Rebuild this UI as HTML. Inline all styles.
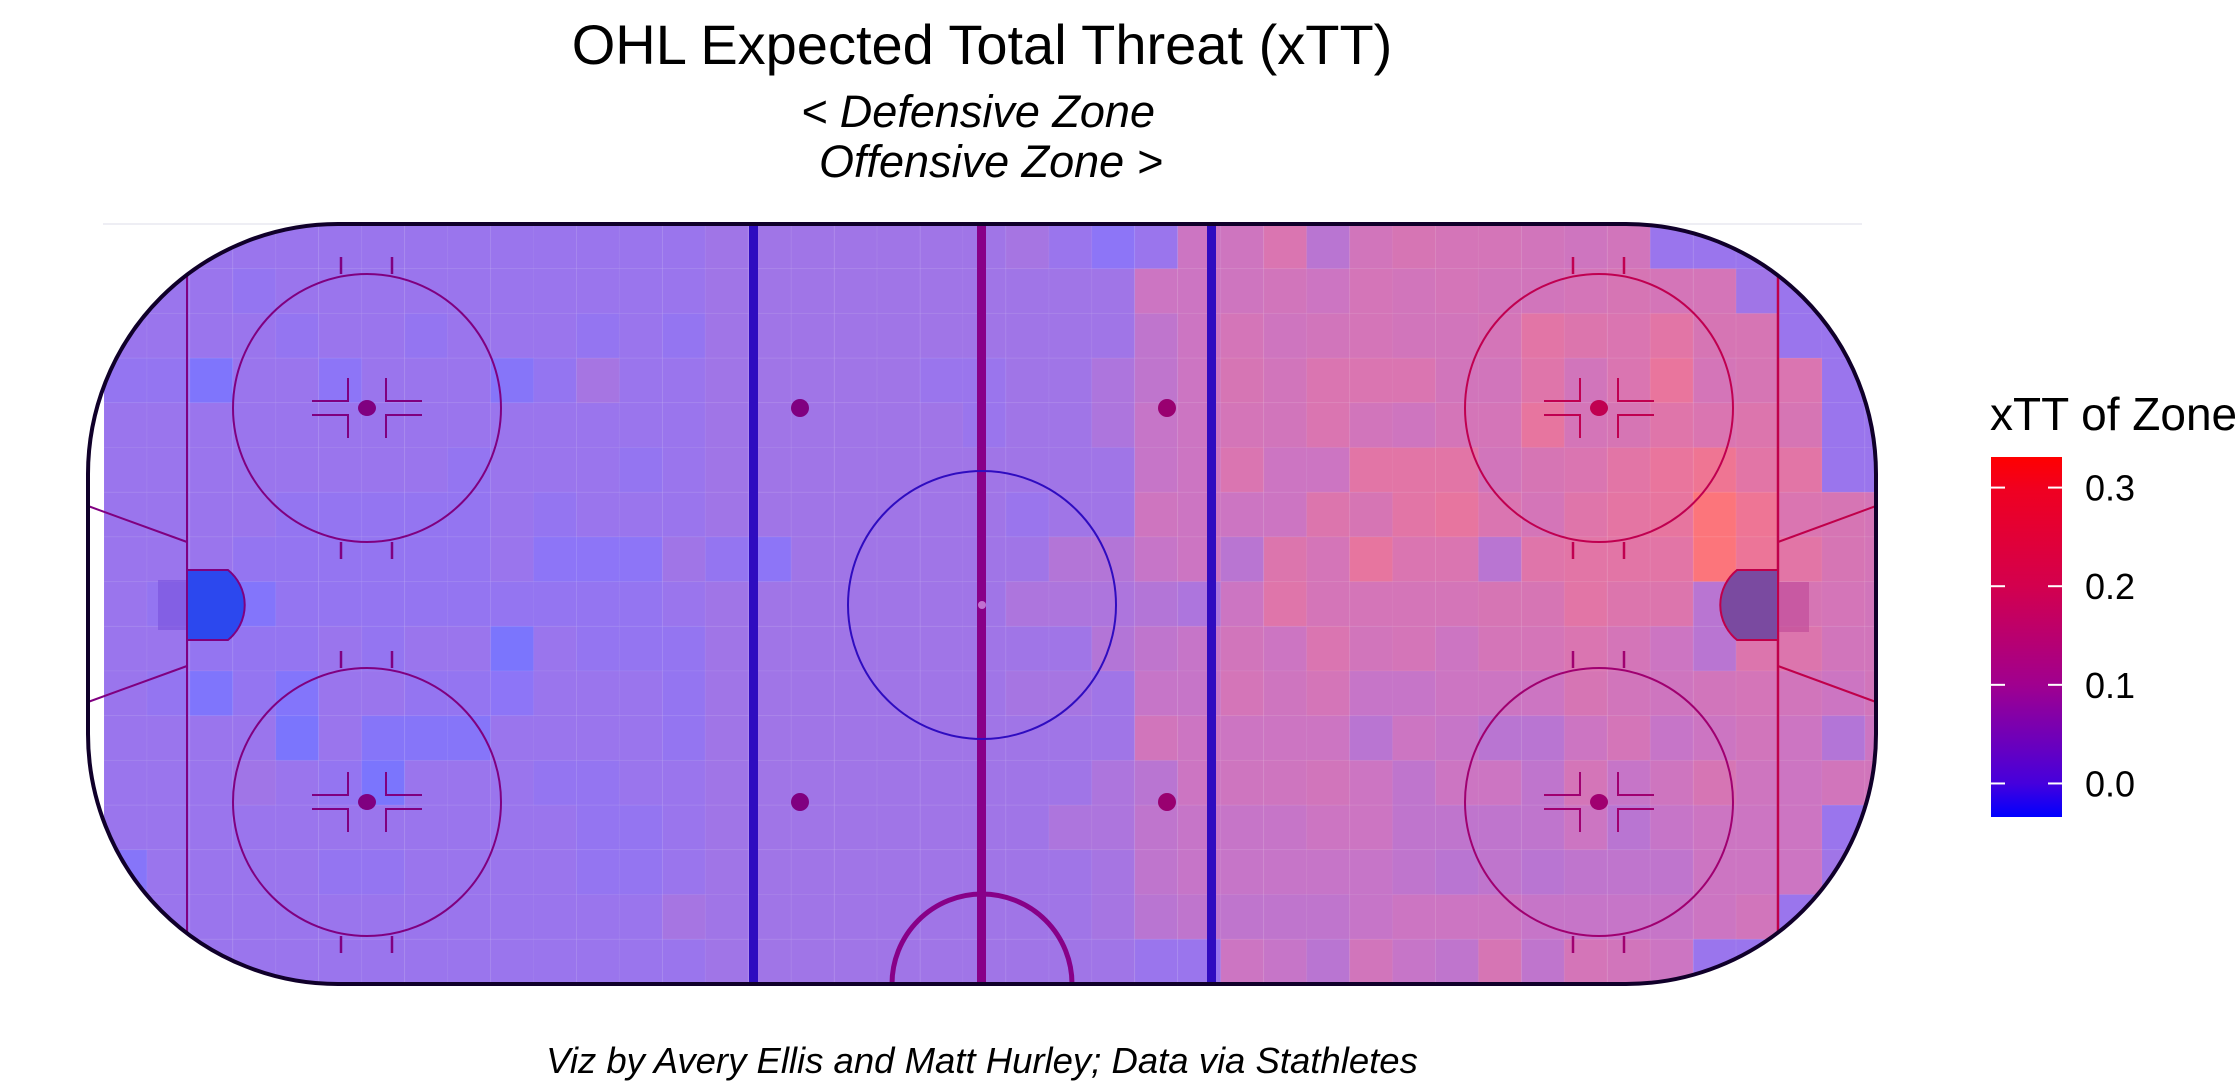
<!DOCTYPE html>
<html><head><meta charset="utf-8"><style>
html,body{margin:0;padding:0;background:#fff;}
svg{display:block;}
text{font-family:"Liberation Sans",sans-serif;}
</style></head><body>
<svg id="chart" width="2237" height="1084" viewBox="0 0 2237 1084" xmlns="http://www.w3.org/2000/svg">
<defs>
<clipPath id="rinkClip"><path d="M338,224 H1626 A250,250 0 0 1 1876,474 V734 A250,250 0 0 1 1626,984 H338 A250,250 0 0 1 88,734 V474 A250,250 0 0 1 338,224 Z"/></clipPath>
<linearGradient id="cbar" x1="0" y1="1" x2="0" y2="0">
<stop offset="0" stop-color="#0000ff"/><stop offset="0.094" stop-color="#4600dc"/>
<stop offset="0.367" stop-color="#a0008f"/><stop offset="0.64" stop-color="#d3004e"/>
<stop offset="0.913" stop-color="#f00020"/><stop offset="1" stop-color="#ff0000"/>
</linearGradient>
</defs>
<text x="982" y="64" font-size="56" text-anchor="middle" fill="#000">OHL Expected Total Threat (xTT)</text>
<text x="978" y="127" font-size="45" font-style="italic" text-anchor="middle" fill="#000">&lt; Defensive Zone</text>
<text x="991" y="177" font-size="45" font-style="italic" text-anchor="middle" fill="#000">Offensive Zone &gt;</text>
<line x1="103" y1="224" x2="1862" y2="224" stroke="#eeeef4" stroke-width="2"/>
<path d="M338,224 H1626 A250,250 0 0 1 1876,474 V734 A250,250 0 0 1 1626,984 H338 A250,250 0 0 1 88,734 V474 A250,250 0 0 1 338,224 Z" fill="#fff"/>
<g id="heat" clip-path="url(#rinkClip)"></g>
<g id="rinkLines"></g>
<path d="M338,224 H1626 A250,250 0 0 1 1876,474 V734 A250,250 0 0 1 1626,984 H338 A250,250 0 0 1 88,734 V474 A250,250 0 0 1 338,224 Z" fill="none" stroke="#10002a" stroke-width="4"/>
<text x="1990" y="430" font-size="46" fill="#000">xTT of Zone</text>
<rect x="1991" y="457" width="71" height="360" fill="url(#cbar)"/>
<g id="legendTicks"></g>
<text x="982" y="1073" font-size="36.5" font-style="italic" text-anchor="middle" fill="#000">Viz by Avery Ellis and Matt Hurley; Data via Stathletes</text>
</svg>
<script>
const NS="http://www.w3.org/2000/svg";
// grid geometry: 42 columns x 17 rows (zones)
const legendTicks=[0.0,0.1,0.2,0.3];
const legendTickLabels=["0.0","0.1","0.2","0.3"];
const legendMin=-0.034, legendMax=0.331;
// xTT values per row (r0 top .. r16 bottom), columns c0..c41
const row0 =[0.02,0.02,0.02,0.02,0.02,0.02,0.02,0.02,0.02,0.02,0.02,0.02,0.02,0.02,0.03,0.03,0.03,0.03,0.03,0.03,0.03,0.04,0.02,0.0,0.02,0.10,0.11,0.15,0.07,0.12,0.14,0.13,0.13,0.12,0.11,0.12,0.02,0.02,0.02,0.02,0.02,0.02];
const row1 =[0.02,0.02,0.02,0.01,0.02,0.02,0.02,0.02,0.02,0.02,0.02,0.02,0.02,0.02,0.03,0.03,0.03,0.03,0.03,0.03,0.03,0.03,0.03,0.03,0.10,0.10,0.11,0.12,0.10,0.13,0.12,0.13,0.12,0.12,0.13,0.14,0.13,0.13,0.03,0.02,0.02,0.02];
const row2 =[0.02,0.02,0.02,0.02,0.01,0.02,0.02,0.01,0.02,0.02,0.02,0.01,0.02,0.01,0.03,0.03,0.03,0.03,0.03,0.03,0.03,0.03,0.03,0.03,0.08,0.10,0.13,0.11,0.12,0.13,0.12,0.12,0.13,0.18,0.16,0.15,0.18,0.14,0.14,0.02,0.02,0.02];
const row3 =[0.01,0.01,-0.02,0.02,0.02,0.0,0.02,0.02,0.02,-0.01,0.01,0.04,0.02,0.02,0.03,0.03,0.03,0.03,0.03,0.02,0.02,0.03,0.03,0.05,0.08,0.10,0.14,0.12,0.15,0.15,0.15,0.12,0.12,0.17,0.12,0.15,0.21,0.13,0.14,0.15,0.02,0.02];
const row4 =[0.02,0.02,0.02,0.02,0.02,0.02,0.02,0.02,0.02,0.02,0.02,0.02,0.02,0.02,0.03,0.03,0.03,0.03,0.03,0.03,0.02,0.03,0.03,0.05,0.09,0.10,0.13,0.12,0.15,0.12,0.11,0.13,0.13,0.20,0.13,0.14,0.17,0.15,0.16,0.14,0.02,0.02];
const row5 =[0.02,0.02,0.02,0.02,0.02,0.02,0.02,0.02,0.01,0.02,0.02,0.02,0.01,0.02,0.03,0.03,0.03,0.03,0.03,0.03,0.03,0.03,0.03,0.03,0.09,0.10,0.15,0.10,0.10,0.18,0.18,0.18,0.12,0.14,0.15,0.18,0.21,0.25,0.18,0.18,0.02,0.02];
const row6 =[0.02,0.02,0.02,0.02,0.01,0.01,0.01,0.01,0.01,0.02,0.01,0.02,0.02,0.02,0.03,0.03,0.03,0.03,0.03,0.03,0.03,0.02,0.03,0.03,0.11,0.10,0.10,0.10,0.16,0.14,0.18,0.20,0.15,0.13,0.17,0.19,0.20,0.32,0.24,0.15,0.14,0.13];
const row7 =[0.02,0.02,0.02,0.01,0.01,0.01,0.01,0.01,0.01,0.02,0.0,0.0,0.0,0.03,0.01,0.0,0.03,0.03,0.03,0.03,0.03,0.03,0.06,0.06,0.09,0.10,0.07,0.16,0.13,0.20,0.15,0.15,0.07,0.17,0.18,0.18,0.18,0.32,0.23,0.18,0.14,0.13];
const row8 =[0.02,0.01,-0.02,-0.015,0.01,0.01,0.01,0.01,0.01,0.01,0.01,0.01,0.01,0.02,0.03,0.03,0.03,0.03,0.03,0.03,0.03,0.05,0.05,0.05,0.06,0.05,0.10,0.17,0.13,0.13,0.13,0.13,0.14,0.14,0.18,0.16,0.16,0.07,0.10,0.14,0.13,0.12];
const row9 =[0.02,0.02,0.01,0.01,0.01,0.02,0.01,0.02,0.02,-0.025,0.02,0.01,0.01,0.01,0.03,0.03,0.03,0.03,0.03,0.03,0.03,0.03,0.03,0.06,0.08,0.09,0.12,0.10,0.15,0.12,0.13,0.10,0.13,0.13,0.15,0.13,0.10,0.07,0.16,0.16,0.12,0.12];
const row10=[0.02,0.01,-0.02,0.01,-0.015,0.02,0.02,0.01,0.01,0.0,0.02,0.02,0.02,0.01,0.03,0.03,0.03,0.03,0.03,0.03,0.03,0.04,0.04,0.03,0.09,0.09,0.13,0.11,0.13,0.09,0.09,0.10,0.10,0.10,0.14,0.12,0.11,0.12,0.13,0.12,0.10,0.12];
const row11=[0.02,0.02,0.02,0.02,-0.025,0.02,-0.01,-0.01,-0.01,0.02,0.02,0.02,0.02,0.01,0.03,0.03,0.03,0.03,0.03,0.03,0.03,0.03,0.03,0.03,0.12,0.10,0.10,0.10,0.10,0.07,0.10,0.09,0.07,0.07,0.10,0.13,0.09,0.10,0.12,0.10,0.06,0.10];
const row12=[0.02,0.02,0.02,0.03,0.02,0.01,-0.025,0.02,0.02,0.02,0.01,0.01,0.02,0.02,0.03,0.03,0.03,0.03,0.03,0.03,0.03,0.03,0.03,0.05,0.07,0.10,0.11,0.11,0.12,0.10,0.08,0.10,0.10,0.08,0.13,0.09,0.11,0.14,0.11,0.10,0.12,0.12];
const row13=[0.02,0.02,0.02,0.02,0.02,0.02,0.02,0.02,0.02,0.02,0.02,0.01,0.01,0.02,0.03,0.03,0.03,0.03,0.03,0.03,0.03,0.03,0.05,0.05,0.08,0.09,0.09,0.09,0.10,0.10,0.08,0.08,0.08,0.08,0.10,0.07,0.09,0.10,0.10,0.10,0.02,0.02];
const row14=[-0.01,0.02,0.02,0.02,0.02,0.01,0.01,0.02,0.02,0.02,0.02,0.01,0.01,0.02,0.03,0.03,0.03,0.03,0.03,0.03,0.03,0.03,0.03,0.04,0.08,0.09,0.09,0.09,0.09,0.09,0.08,0.07,0.08,0.07,0.08,0.08,0.08,0.10,0.10,0.10,0.03,0.03];
const row15=[0.02,0.02,0.02,0.02,0.02,0.02,0.02,0.02,0.02,0.02,0.02,0.02,0.02,0.04,0.03,0.03,0.03,0.03,0.03,0.03,0.03,0.03,0.03,0.04,0.07,0.08,0.08,0.08,0.08,0.09,0.10,0.10,0.10,0.09,0.09,0.09,0.09,0.10,0.12,0.02,0.02,0.02];
const row16=[0.02,0.02,0.02,0.02,0.02,0.02,0.02,0.02,0.02,0.02,0.02,0.02,0.02,0.02,0.03,0.03,0.03,0.03,0.03,0.03,0.03,0.03,0.03,0.03,0.02,0.02,0.10,0.09,0.07,0.12,0.09,0.08,0.14,0.08,0.13,0.12,0.10,0.02,0.02,0.02,0.02,0.02];
const grid=[row0,row1,row2,row3,row4,row5,row6,row7,row8,row9,row10,row11,row12,row13,row14,row15,row16];

// axis functions
const colStart=104, colW=42.95, rowStart=224, rowH=44.7;
function xCol(c){return colStart+c*colW;}
function yRow(r){return rowStart+r*rowH;}
const stops=[[-0.034,[0,0,255]],[0,[45,0,240]],[0.1,[160,0,143]],[0.2,[211,0,78]],[0.3,[240,0,32]],[0.331,[255,0,0]]];
function colorFor(v){
  if(v<=stops[0][0])return stops[0][1];
  for(let i=1;i<stops.length;i++){
    if(v<=stops[i][0]){const a=stops[i-1],b=stops[i];const t=(v-a[0])/(b[0]-a[0]);
      return a[1].map((x,k)=>Math.round(x+(b[1][k]-x)*t));}
  }
  return stops[stops.length-1][1];
}
function yLegend(v){return 817-(v-legendMin)/(legendMax-legendMin)*360;}

const heat=document.getElementById('heat');
grid.forEach((row,r)=>{
  row.forEach((v,c)=>{
    const rc=document.createElementNS(NS,'rect');
    
    
    rc.setAttribute('x',xCol(c).toFixed(1));
    rc.setAttribute('y',yRow(r).toFixed(1));
    rc.setAttribute('width',colW.toFixed(2));
    rc.setAttribute('height',rowH.toFixed(2));
    const col=colorFor(v);
    rc.setAttribute('fill','rgb('+col.join(',')+')');
    rc.setAttribute('fill-opacity','0.54');
    rc.setAttribute('stroke','rgba(255,255,255,0.05)');
    rc.setAttribute('stroke-width','1');
    heat.appendChild(rc);
  });
});

const lt=document.getElementById('legendTicks');
legendTicks.forEach((v,i)=>{
  const y=yLegend(v);
  [[1991,2005],[2048,2062]].forEach(p=>{
    const l=document.createElementNS(NS,'line');
    
    
    l.setAttribute('x1',p[0]);l.setAttribute('x2',p[1]);l.setAttribute('y1',y);l.setAttribute('y2',y);
    l.setAttribute('stroke','#ffffff');l.setAttribute('stroke-width','2');
    lt.appendChild(l);
  });
  const t=document.createElementNS(NS,'text');
  
  
  t.setAttribute('x','2085');t.setAttribute('y',(y+13).toFixed(1));
  t.setAttribute('font-size','36');t.setAttribute('fill','#000');
  t.textContent=legendTickLabels[i];
  lt.appendChild(t);
});

// rink markings
const g=document.getElementById('rinkLines');
function add(tag,attrs,name){
  const e=document.createElementNS(NS,tag);
  for(const k in attrs)e.setAttribute(k,attrs[k]);
  
  
  g.appendChild(e);return e;
}
const LP='#800080', RP='#c0004a', BL='#2f0cc0';
add('line',{x1:187,y1:276,x2:187,y2:932,stroke:LP,'stroke-width':2},'left-goal-line');
add('line',{x1:1778,y1:276,x2:1778,y2:932,stroke:RP,'stroke-width':2.5},'right-goal-line');
add('polyline',{points:'88,506 187,542',stroke:LP,'stroke-width':2,fill:'none'},'left-trapezoid-top');
add('polyline',{points:'88,702 187,666',stroke:LP,'stroke-width':2,fill:'none'},'left-trapezoid-bottom');
add('polyline',{points:'1876,506 1778,542',stroke:RP,'stroke-width':2,fill:'none'},'right-trapezoid-top');
add('polyline',{points:'1876,702 1778,666',stroke:RP,'stroke-width':2,fill:'none'},'right-trapezoid-bottom');
add('rect',{x:158,y:580,width:29,height:50,fill:'rgba(120,80,220,0.6)'},'left-net');
add('rect',{x:1778,y:582,width:31,height:50,fill:'rgba(190,70,150,0.6)'},'right-net');
add('path',{d:'M187,570 H228 A45,45 0 0 1 228,640 H187 Z',fill:'#2c48ee',stroke:LP,'stroke-width':2},'left-goal-crease');
add('path',{d:'M1778,570 H1737 A45,45 0 0 0 1737,640 H1778 Z',fill:'#7a4aa0',stroke:RP,'stroke-width':2},'right-goal-crease');
add('rect',{x:749,y:224,width:9,height:760,fill:BL},'left-blue-line');
add('rect',{x:1207,y:224,width:9,height:760,fill:BL},'right-blue-line');
add('rect',{x:977,y:224,width:9,height:760,fill:'#880088'},'center-red-line');
add('circle',{cx:982,cy:605,r:134,fill:'none',stroke:BL,'stroke-width':2},'center-circle');
add('circle',{cx:982,cy:605,r:4,fill:'#c070d0'},'center-dot');
add('path',{d:'M892,984 A90,90 0 0 1 1072,984',fill:'none',stroke:'#880088','stroke-width':5},'referee-crease');
[[800,408,LP],[800,802,LP],[1167,408,'#990070'],[1167,802,'#990070']].forEach(d=>add('ellipse',{cx:d[0],cy:d[1],rx:9,ry:9,fill:d[2]},'neutral-zone-dot'));
[[367,408,LP],[367,802,LP],[1599,408,'#c00050'],[1599,802,'#a00070']].forEach(f=>{
  const [cx,cy,col]=f;
  add('circle',{cx:cx,cy:cy,r:134,fill:'none',stroke:col,'stroke-width':2},'faceoff-circle');
  add('ellipse',{cx:cx,cy:cy,rx:9,ry:8,fill:col},'faceoff-dot');
  [-26,25].forEach(dx=>{
    add('line',{x1:cx+dx,y1:cy-151,x2:cx+dx,y2:cy-134,stroke:col,'stroke-width':2.5},'hash-mark');
    add('line',{x1:cx+dx,y1:cy+134,x2:cx+dx,y2:cy+151,stroke:col,'stroke-width':2.5},'hash-mark');
  });
  [-1,1].forEach(sx=>{[-1,1].forEach(sy=>{
    add('polyline',{points:(cx+sx*55)+','+(cy+sy*7)+' '+(cx+sx*19)+','+(cy+sy*7)+' '+(cx+sx*19)+','+(cy+sy*30),fill:'none',stroke:col,'stroke-width':2},'faceoff-l-mark');
  });});
});
</script>
</body></html>
